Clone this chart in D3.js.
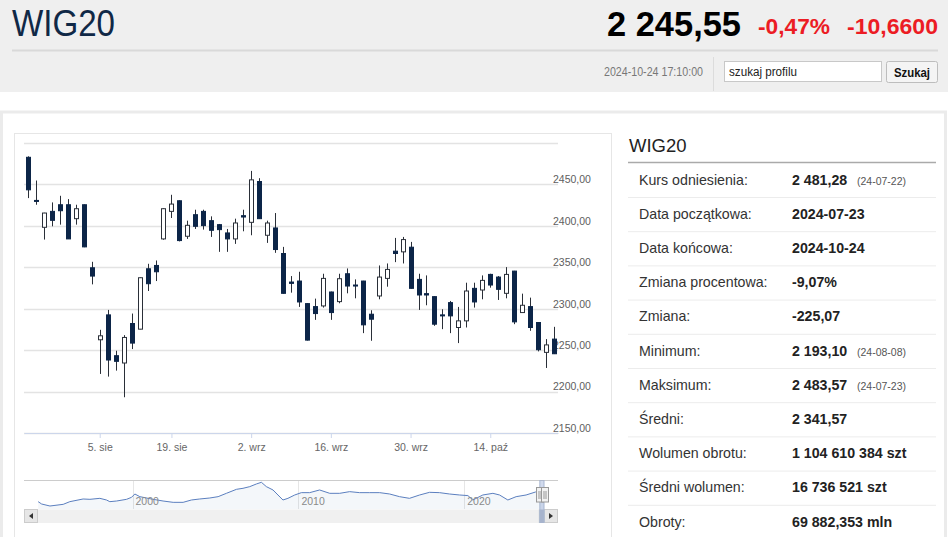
<!DOCTYPE html>
<html>
<head>
<meta charset="utf-8">
<script src="https://cdn.jsdelivr.net/npm/d3@7"></script>
<style>
  body { margin: 0; background: #fff; overflow: hidden; }
  svg { display: block; }
  text { font-family: "Liberation Sans", Arial, sans-serif; }
  .head { font-family: "Liberation Sans", Arial, sans-serif; }
  .narrow { font-family: "Liberation Sans Narrow", "Liberation Sans", Arial, sans-serif; }
</style>
</head>
<body>
<svg id="page" width="948" height="537"></svg>
<script>
// trading days shown in the main chart
const days = [
  "2024-07-23","2024-07-24","2024-07-25","2024-07-26","2024-07-29","2024-07-30","2024-07-31",
  "2024-08-01","2024-08-02","2024-08-05","2024-08-06","2024-08-07","2024-08-08","2024-08-09",
  "2024-08-12","2024-08-13","2024-08-14","2024-08-16","2024-08-19","2024-08-20","2024-08-21",
  "2024-08-22","2024-08-23","2024-08-26","2024-08-27","2024-08-28","2024-08-29","2024-08-30",
  "2024-09-02","2024-09-03","2024-09-04","2024-09-05","2024-09-06","2024-09-09","2024-09-10",
  "2024-09-11","2024-09-12","2024-09-13","2024-09-16","2024-09-17","2024-09-18","2024-09-19",
  "2024-09-20","2024-09-23","2024-09-24","2024-09-25","2024-09-26","2024-09-27","2024-09-30",
  "2024-10-01","2024-10-02","2024-10-03","2024-10-04","2024-10-07","2024-10-08","2024-10-09",
  "2024-10-10","2024-10-11","2024-10-14","2024-10-15","2024-10-16","2024-10-17","2024-10-18",
  "2024-10-21","2024-10-22","2024-10-23","2024-10-24"
];
const open = [
  2482.4,2430.4,2398.0,2417.2,2425.2,2425.2,2408.4,2425.2,2349.2,2262.4,2292.4,2243.2,2234.4,2282.0,
  2275.2,2348.0,2352.0,2384.0,2417.2,2430.0,2387.2,2413.2,2417.2,2406.0,2401.2,2391.2,2384.0,2412.0,
  2404.0,2453.2,2388.4,2397.2,2366.4,2332.0,2333.2,2306.0,2302.4,2303.2,2320.0,2308.4,2342.0,2328.4,
  2333.2,2293.2,2315.2,2336.4,2369.2,2368.4,2374.0,2335.2,2318.0,2314.4,2292.4,2307.2,2277.2,2285.2,
  2324.4,2322.4,2341.2,2338.0,2318.4,2345.2,2295.2,2302.4,2283.2,2247.2,2263.2
];
const high = [
  2483.57,2454.4,2415.5,2428.0,2436.0,2432.0,2425.2,2425.5,2356.4,2274.4,2298.4,2249.2,2268.0,2294.0,
  2337.5,2354.0,2358.0,2421.0,2437.2,2430.5,2406.0,2419.2,2419.2,2411.2,2402.0,2396.0,2408.4,2419.2,
  2466.0,2457.2,2406.0,2415.2,2374.4,2339.2,2344.4,2306.5,2312.0,2342.0,2320.5,2342.0,2348.4,2335.2,
  2333.5,2298.0,2352.0,2354.4,2385.2,2386.4,2380.4,2342.0,2340.0,2314.8,2299.2,2309.2,2302.0,2331.2,
  2331.2,2340.0,2342.0,2339.2,2350.0,2345.5,2318.0,2313.2,2283.5,2263.2,2278.0
];
const low = [
  2433.2,2425.2,2383.2,2399.2,2401.2,2384.0,2401.2,2374.0,2329.2,2221.2,2218.0,2225.2,2193.1,2251.2,
  2275.0,2321.2,2333.2,2383.0,2409.2,2381.0,2384.0,2396.0,2395.2,2386.4,2368.4,2368.4,2378.0,2393.2,
  2388.4,2408.0,2379.2,2367.2,2318.0,2319.2,2302.0,2261.5,2286.4,2301.2,2286.4,2306.4,2318.4,2312.4,
  2270.4,2261.2,2311.2,2326.4,2356.0,2354.4,2324.0,2298.4,2304.0,2279.2,2275.2,2270.4,2258.4,2277.2,
  2301.2,2311.2,2325.2,2310.4,2312.4,2281.2,2295.0,2273.2,2248.4,2228.4,2245.2
];
const close = [
  2443.2,2429.2,2415.2,2406.4,2418.0,2384.0,2420.4,2374.4,2339.2,2267.2,2238.0,2236.4,2265.2,2258.4,
  2337.2,2330.0,2344.4,2420.4,2426.0,2382.0,2400.4,2399.2,2400.0,2394.4,2395.2,2384.0,2403.2,2410.4,
  2455.2,2408.4,2403.2,2371.2,2318.4,2330.4,2308.0,2262.0,2294.0,2336.4,2295.2,2336.0,2327.2,2327.2,
  2280.4,2287.2,2338.0,2347.2,2366.4,2383.2,2324.4,2316.4,2316.4,2281.2,2291.2,2291.2,2285.2,2321.2,
  2308.0,2334.0,2328.4,2323.2,2341.2,2284.0,2304.0,2277.2,2250.4,2256.21,2245.55
];
const yTicks = [2150, 2200, 2250, 2300, 2350, 2400, 2450];
const gridValues = [2150, 2200, 2250, 2300, 2350, 2400, 2450, 2500];
const tickDays = ["2024-08-05","2024-08-19","2024-09-02","2024-09-16","2024-09-30","2024-10-14"];
const tickLabels = ["5. sie","19. sie","2. wrz","16. wrz","30. wrz","14. paź"];

// navigator: whole history
const navYear = [
  1994.31,1994.52,1995.02,1995.82,1996.22,1997.02,1997.43,1998.03,1998.43,1998.63,1999.04,1999.64,
  1999.94,2000.14,2000.44,2001.24,2001.84,2002.45,2003.05,2003.55,2004.05,2004.66,2005.16,2005.66,
  2006.27,2006.66,2007.07,2007.47,2007.77,2008.07,2008.47,2008.77,2009.07,2009.37,2009.78,2010.18,
  2010.68,2011.28,2011.89,2012.49,2013.09,2013.69,2014.30,2014.90,2015.50,2016.10,2016.70,2017.31,
  2017.91,2018.51,2019.11,2019.72,2020.22,2020.52,2021.12,2021.73,2022.13,2022.63,2023.13,2023.73,
  2024.30,2024.55,2024.81
];
const navValue = [
  1203, 878, 600, 831,1203,1575,1529,1668,1436,1203,1296,1529,
  1808,2273,1900,1529,1296,1110,1110,1436,1575,1715,1900,2366,
  2924,3063,3296,3668,3900,3296,2831,2133,1436,1668,2133,2459,
  2459,2831,2366,2366,2598,2459,2459,2459,2273,1900,1668,2133,
  2505,2459,2273,2133,2050,1436,2133,2366,2133,1436,1900,2133,
  2550,2500,2300
];
const navYears = [2000, 2010, 2020];
const navRange = [2024.56, 2024.81];

// right-hand table
const statLabels = ["Kurs odniesienia:","Data początkowa:","Data końcowa:","Zmiana procentowa:","Zmiana:",
  "Minimum:","Maksimum:","Średni:","Wolumen obrotu:","Średni wolumen:","Obroty:"];
const statValues = ["2 481,28","2024-07-23","2024-10-24","-9,07%","-225,07",
  "2 193,10","2 483,57","2 341,57","1 104 610 384 szt","16 736 521 szt","69 882,353 mln"];
const statNotes = ["(24-07-22)","","","","","(24-08-08)","(24-07-23)","","","",""];

const svg = d3.select("#page");

// ---------- header ----------
svg.append("rect").attr("width", 948).attr("height", 92).attr("fill", "#efefef");
svg.append("line").attr("x1", 12).attr("x2", 938).attr("y1", 50.5).attr("y2", 50.5)
  .attr("stroke", "#d9d9d9").attr("stroke-width", 2);

function htext(cls, str, x, y, size, opts) {
  const t = svg.append("text").attr("class", cls).attr("x", x).attr("y", y)
    .attr("font-size", size).text(str);
  if (opts.len) t.attr("textLength", opts.len).attr("lengthAdjust", "spacingAndGlyphs");
  t.attr("fill", opts.fill || "#000").attr("font-weight", opts.bold ? "bold" : "normal");
  if (opts.anchor) t.attr("text-anchor", opts.anchor);
  return t;
}
htext("head", "WIG20", 12, 36, 36.5, { len: 103, fill: "#102846" });
htext("head", "2 245,55", 607, 35.5, 35.5, { len: 134, bold: true, fill: "#000" });
htext("head", "-0,47%", 758, 33.5, 22, { len: 72, bold: true, fill: "#ec1c24" });
htext("head", "-10,6600", 847, 33.5, 22, { len: 91, bold: true, fill: "#ec1c24" });
htext("narrow", "2024-10-24 17:10:00", 604, 75.5, 12, { len: 99, fill: "#777" });
svg.append("line").attr("x1", 713.5).attr("x2", 713.5).attr("y1", 57).attr("y2", 91).attr("stroke", "#dcdcdc");
svg.append("rect").attr("x", 724.5).attr("y", 61.5).attr("width", 157).attr("height", 20)
  .attr("fill", "#fff").attr("stroke", "#c8c8c8");
htext("narrow", "szukaj profilu", 729, 75.5, 12.5, { len: 68, fill: "#222" });
svg.append("rect").attr("x", 886.5).attr("y", 61.5).attr("width", 51).attr("height", 21).attr("rx", 2)
  .attr("fill", "#f4f4f4").attr("stroke", "#bdbdbd");
htext("narrow", "Szukaj", 912, 76.5, 12.5, { len: 36, bold: true, fill: "#111", anchor: "middle" });

// ---------- cards ----------
svg.append("rect").attr("x", 1.5).attr("y", 112).attr("width", 944).attr("height", 440)
  .attr("fill", "#fff").attr("stroke", "#ebebeb").attr("stroke-width", 3);
svg.append("rect").attr("x", 14.5).attr("y", 133.5).attr("width", 597).attr("height", 420)
  .attr("fill", "none").attr("stroke", "#e6e6e6");

// ---------- main candlestick chart ----------
const x = d3.scalePoint().domain(days).range([24, 558]).padding(0.5);
const y = d3.scaleLinear().domain([2150, 2500]).range([433, 142.7]);
const fmt = d3.formatLocale({ decimal: ",", thousands: "", grouping: [3], currency: ["", ""] }).format(".2f");

svg.append("g").selectAll("line").data(gridValues).join("line")
  .attr("x1", 24).attr("x2", 558)
  .attr("y1", d => Math.round(y(d)) + 0.5).attr("y2", d => Math.round(y(d)) + 0.5)
  .attr("stroke", "#e3e3e3").attr("stroke-width", 1.5);

const yAxis = svg.append("g").attr("transform", "translate(553,0)")
  .call(d3.axisRight(y).tickValues(yTicks).tickSize(0).tickPadding(0).tickFormat(fmt));
yAxis.select(".domain").remove();
yAxis.selectAll("text").attr("dy", "-0.15em").attr("fill", "#606060")
  .attr("font-size", 10.5).attr("font-family", "DejaVu Sans");

const xAxis = svg.append("g").attr("transform", "translate(0,433)")
  .call(d3.axisBottom(x).tickValues(tickDays).tickSize(5).tickSizeOuter(0)
    .tickFormat(d => tickLabels[tickDays.indexOf(d)]));
xAxis.select(".domain").attr("stroke", "#ccd6eb");
xAxis.selectAll(".tick line").attr("stroke", "#ccd6eb");
xAxis.selectAll("text").attr("y", 18).attr("dy", 0).attr("fill", "#666")
  .attr("font-size", 10.5).attr("font-family", "DejaVu Sans");

const candles = svg.append("g").selectAll("g").data(days).join("g");
const cx = d => Math.round(x(d)) + 0.5;
candles.append("line")
  .attr("x1", cx).attr("x2", cx)
  .attr("y1", (d, i) => y(high[i])).attr("y2", (d, i) => y(low[i]))
  .attr("stroke", "#2a2f38");
candles.append("rect")
  .attr("x", d => cx(d) - 2).attr("width", 4)
  .attr("y", (d, i) => y(Math.max(open[i], close[i])))
  .attr("height", (d, i) => Math.max(1, Math.abs(y(open[i]) - y(close[i]))))
  .attr("fill", (d, i) => close[i] >= open[i] ? "#fff" : "#0c2548")
  .attr("stroke", (d, i) => close[i] >= open[i] ? "#2a2f38" : "#0c2548");

// ---------- navigator ----------
const nx = d3.scaleLinear().domain([1994.3, 2024.81]).range([38, 544]);
const ny = d3.scaleLinear().domain(d3.extent(navValue)).range([506, 482.3]);
const nav = navYear.map((t, i) => [t, navValue[i]]);

svg.append("g").selectAll("line").data(navYears).join("line")
  .attr("x1", d => Math.round(nx(d)) + 0.5).attr("x2", d => Math.round(nx(d)) + 0.5)
  .attr("y1", 480).attr("y2", 509).attr("stroke", "#e6e6e6");
svg.append("path").datum(nav)
  .attr("d", d3.area().x(d => nx(d[0])).y0(509).y1(d => ny(d[1])))
  .attr("fill", "rgba(69,114,167,0.06)");
svg.append("path").datum(nav)
  .attr("d", d3.line().x(d => nx(d[0])).y(d => ny(d[1])))
  .attr("fill", "none").attr("stroke", "#5b7fbf").attr("stroke-width", 1);
svg.append("g").selectAll("text").data(navYears).join("text")
  .attr("x", d => nx(d) + 3).attr("y", 505).attr("font-family", "DejaVu Sans")
  .attr("font-size", 10.5).attr("fill", "#8a8a8a").text(d => d);
svg.append("line").attr("x1", 24).attr("x2", 558).attr("y1", 480.5).attr("y2", 480.5).attr("stroke", "#cccccc");

// scrollbar
svg.append("rect").attr("x", 24).attr("y", 509.5).attr("width", 534).attr("height", 13.5)
  .attr("fill", "#f0f0f0");
svg.append("rect").attr("x", 24.5).attr("y", 509.5).attr("width", 13).attr("height", 13)
  .attr("fill", "#e6e6e6").attr("stroke", "#cccccc");
svg.append("rect").attr("x", 544.5).attr("y", 509.5).attr("width", 13).attr("height", 13)
  .attr("fill", "#e6e6e6").attr("stroke", "#cccccc");
svg.append("path").attr("d", "M29,516 L33,513 L33,519 Z").attr("fill", "#333");
svg.append("path").attr("d", "M553,516 L549,513 L549,519 Z").attr("fill", "#333");
svg.append("rect").attr("x", nx(navRange[0]) - 1).attr("y", 509.5)
  .attr("width", nx(navRange[1]) - nx(navRange[0]) + 2).attr("height", 13.5).attr("fill", "#c3c8d0");

// selected range mask + handles
svg.append("rect").attr("x", nx(navRange[0])).attr("y", 480)
  .attr("width", nx(navRange[1]) - nx(navRange[0])).attr("height", 43)
  .attr("fill", "rgba(102,133,194,0.3)");
svg.append("line").attr("x1", nx(navRange[0])).attr("x2", nx(navRange[0])).attr("y1", 480).attr("y2", 523)
  .attr("stroke", "#a7b6d0");
svg.append("line").attr("x1", nx(navRange[1])).attr("x2", nx(navRange[1])).attr("y1", 480).attr("y2", 523)
  .attr("stroke", "#a7b6d0");
navRange.forEach((r, k) => {
  const hx = Math.round(nx(r)) + (k === 0 ? -4 : -3) + 0.5;
  svg.append("rect").attr("x", hx).attr("y", 487.5).attr("width", 7).attr("height", 14.5)
    .attr("fill", "#f2f2f2").attr("stroke", "#999");
  svg.append("line").attr("x1", hx + 2.5).attr("x2", hx + 2.5).attr("y1", 491).attr("y2", 499).attr("stroke", "#999");
  svg.append("line").attr("x1", hx + 4.5).attr("x2", hx + 4.5).attr("y1", 491).attr("y2", 499).attr("stroke", "#999");
});

// ---------- right table ----------
svg.append("text").attr("x", 629).attr("y", 152).attr("font-size", 18.5).attr("fill", "#222").text("WIG20");
svg.append("line").attr("x1", 628).attr("x2", 936).attr("y1", 162.5).attr("y2", 162.5)
  .attr("stroke", "#aaaaaa").attr("stroke-width", 1.5);

const rowY = d3.scaleLinear().domain([0, 10]).range([179.5, 521.5]);
const rows = svg.append("g").selectAll("g").data(statLabels).join("g")
  .attr("transform", (d, i) => `translate(0,${rowY(i)})`);
rows.filter((d, i) => i < statLabels.length - 1).append("line")
  .attr("x1", 628).attr("x2", 936).attr("y1", 18).attr("y2", 18).attr("stroke", "#ececec");
rows.append("text").attr("x", 639).attr("y", 5).attr("font-size", 14.2).attr("fill", "#333").text(d => d);
rows.append("text").attr("x", 792).attr("y", 5).attr("font-size", 14.2).attr("font-weight", "bold")
  .attr("fill", "#222").text((d, i) => statValues[i]);
rows.append("text").attr("x", 857).attr("y", 5).attr("font-size", 10.5).attr("fill", "#555")
  .text((d, i) => statNotes[i]);
</script>
</body>
</html>
